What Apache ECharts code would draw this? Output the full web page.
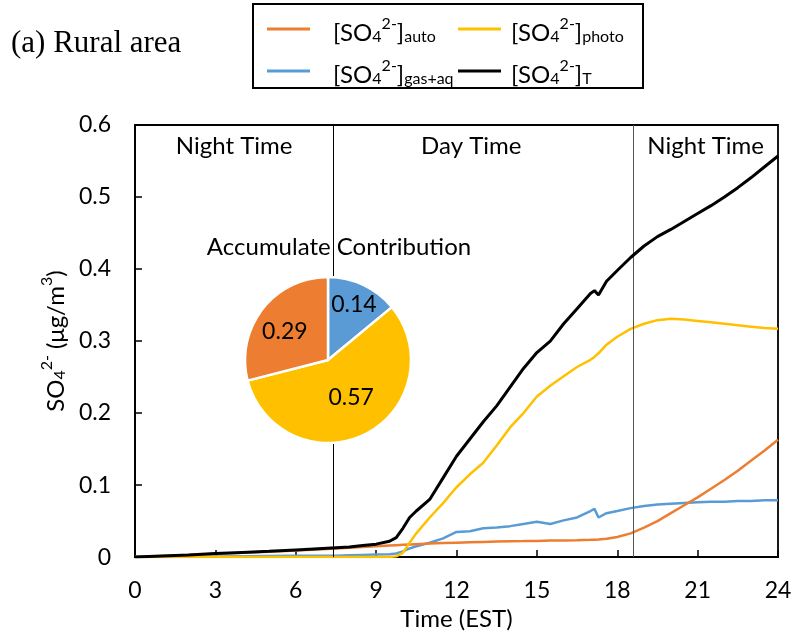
<!DOCTYPE html>
<html>
<head>
<meta charset="utf-8">
<script src="https://cdn.jsdelivr.net/npm/echarts@6/dist/echarts.min.js"></script>
<style>
  html, body { margin: 0; padding: 0; background: #fff; }
  #chart { width: 798px; height: 636px; }
</style>
</head>
<body>
<div id="chart"></div>
<script>
// Hour of day (EST)
const hours = [0,1,2,3,4,5,6,7,7.5,8,8.5,9,9.5,9.75,10,10.25,10.5,11,11.5,12,12.5,13,13.5,14,14.5,15,15.5,16,16.5,17,17.15,17.3,17.6,18,18.5,19,19.5,20,20.5,21,21.5,22,22.5,23,23.5,24];

// Sulfate concentrations (µg/m3)
const soAuto  = [0,0.0015,0.003,0.0045,0.006,0.0075,0.009,0.011,0.012,0.013,0.014,0.015,0.016,0.0165,0.017,0.0175,0.018,0.019,0.0195,0.02,0.0205,0.021,0.0215,0.022,0.0222,0.0225,0.023,0.0232,0.0235,0.024,0.0242,0.0245,0.0255,0.028,0.033,0.041,0.05,0.061,0.072,0.083,0.095,0.107,0.12,0.134,0.148,0.163];
const soPhoto = [0,0,0,0,0,0,0,0,0,0,0,0,0,0.001,0.006,0.02,0.033,0.055,0.075,0.097,0.115,0.131,0.155,0.18,0.2,0.223,0.238,0.251,0.264,0.274,0.278,0.283,0.295,0.306,0.317,0.324,0.329,0.331,0.33,0.328,0.326,0.324,0.322,0.32,0.318,0.317];
const soGasAq = [0,0.0003,0.0006,0.001,0.0012,0.0015,0.0018,0.002,0.002,0.0025,0.003,0.0035,0.004,0.005,0.008,0.012,0.015,0.02,0.026,0.035,0.036,0.04,0.041,0.043,0.046,0.049,0.046,0.051,0.055,0.064,0.067,0.055,0.061,0.064,0.068,0.071,0.073,0.074,0.075,0.076,0.077,0.077,0.078,0.078,0.079,0.079];
const soTotal = [0,0.0015,0.003,0.005,0.0065,0.008,0.01,0.012,0.013,0.014,0.016,0.018,0.022,0.027,0.04,0.055,0.064,0.08,0.11,0.14,0.164,0.188,0.21,0.236,0.262,0.284,0.30,0.324,0.345,0.366,0.37,0.364,0.383,0.398,0.416,0.432,0.445,0.455,0.466,0.477,0.488,0.5,0.513,0.527,0.542,0.557];

// Accumulated contribution shares
const pieNames  = ['gas+aq', 'photo', 'auto'];
const pieValues = [0.14, 0.57, 0.29];

// Day / night boundaries (hours)
const sunrise = 7.4;
const sunset  = 18.6;

const C_AUTO = '#ED7D31', C_PHOTO = '#FFC000', C_GAS = '#5B9BD5', C_T = '#000000';
const FONT = 'Lato';

const pairs = vals => hours.map((h, i) => [h, vals[i]]);

// Rich-text styles for chemical formulas (sub/superscripts)
const LH = 32;
const richStyles = {
  b:   { fontFamily: FONT, fontSize: 24, color: '#000', lineHeight: LH, verticalAlign: 'bottom' },
  p:   { fontFamily: FONT, fontSize: 24, color: '#000', lineHeight: LH, verticalAlign: 'bottom', padding: [0,0,0,18] },
  q:   { fontFamily: FONT, fontSize: 24, color: '#000', lineHeight: LH, verticalAlign: 'bottom', padding: [0,0,0,5] },
  sub: { fontFamily: FONT, fontSize: 16, color: '#000', lineHeight: LH, verticalAlign: 'bottom' },
  sup: { fontFamily: FONT, fontSize: 16, color: '#000', lineHeight: LH, verticalAlign: 'top', padding: [3,0,0,0] }
};
const formula = (lead, tag) => `{${lead}|[SO}{sub|4}{sup|2-}{b|]}{sub|${tag}}`;

const lineSeries = (name, vals, color, width, z) => ({
  name, type: 'line', data: pairs(vals), showSymbol: false, symbol: 'none',
  lineStyle: { color, width }, itemStyle: { color }, z
});

const legendItem = (name, left, top, lead, tag) => ({
  left, top, icon: 'rect', itemWidth: 43, itemHeight: 3, padding: 0,
  data: [name], selectedMode: false,
  formatter: () => formula(lead, tag), textStyle: { rich: richStyles }
});

const chart = echarts.init(document.getElementById('chart'), null, { renderer: 'canvas' });

const seriesT = lineSeries('[SO4]T', soTotal, C_T, 3, 5);
seriesT.markLine = {
  silent: true, symbol: 'none', label: { show: false },
  data: [
    { xAxis: sunrise, lineStyle: { color: '#000', width: 1, type: 'solid' } },
    { xAxis: sunset,  lineStyle: { color: '#555', width: 1, type: 'solid' } }
  ]
};
seriesT.markArea = {
  silent: true,
  itemStyle: { color: 'rgba(0,0,0,0)' },
  label: { show: true, position: 'insideTop', distance: 9, fontFamily: FONT, fontSize: 24, color: '#000' },
  data: [
    [{ name: 'Night Time', xAxis: 0 },       { xAxis: sunrise }],
    [{ name: 'Day Time',   xAxis: sunrise, label: { offset: [-12, 0] } }, { xAxis: sunset }],
    [{ name: 'Night Time', xAxis: sunset },  { xAxis: 24 }]
  ]
};

// small nudges for the pie's inside labels
const pieLabelShift = [[7, -15], [3, -2], [-8, -1]];

chart.setOption({
  animation: false,
  backgroundColor: '#fff',
  textStyle: { fontFamily: FONT },
  grid: { left: 135, right: 20, top: 125, bottom: 73, show: true, borderColor: '#000', borderWidth: 1.8, backgroundColor: 'transparent' },
  legend: [
    legendItem('[SO4]auto',   267, 13, 'p', 'auto'),
    legendItem('[SO4]photo',  458, 13, 'q', 'photo'),
    legendItem('[SO4]gas+aq', 267, 55, 'p', 'gas+aq'),
    legendItem('[SO4]T',      458, 55, 'q', 'T')
  ],
  xAxis: {
    type: 'value', min: 0, max: 24, interval: 3,
    name: 'Time (EST)', nameLocation: 'middle', nameGap: 45,
    nameTextStyle: { fontFamily: FONT, fontSize: 24, color: '#000' },
    axisLine: { lineStyle: { color: '#000', width: 1.8 } },
    axisTick: { inside: true, length: 7, lineStyle: { color: '#000', width: 1.5 } },
    axisLabel: { fontFamily: FONT, fontSize: 23, color: '#000', margin: 22 },
    splitLine: { show: false }
  },
  yAxis: {
    type: 'value', min: 0, max: 0.6, interval: 0.1,
    name: '{b|SO}{sub|4}{sup|2-}{b| (μg/m}{sup|3}{b|)}', nameLocation: 'middle', nameGap: 66, nameRotate: 90,
    nameTextStyle: { rich: richStyles },
    axisLine: { lineStyle: { color: '#000', width: 1.8 } },
    axisTick: { inside: true, length: 7, lineStyle: { color: '#000', width: 1.5 } },
    axisLabel: { fontFamily: FONT, fontSize: 23, color: '#000', margin: 24 },
    splitLine: { show: false }
  },
  graphic: [
    { type: 'rect', shape: { x: 253, y: 4, width: 390, height: 84 }, style: { fill: 'none', stroke: '#000', lineWidth: 2 }, z: 10 },
    { type: 'text', x: 11, y: 44, style: { text: '(a) Rural area', font: '31px "Liberation Serif"', fill: '#000', verticalAlign: 'middle' } },
    { type: 'text', x: 339, y: 247, style: { text: 'Accumulate Contribution', font: '24px Lato', fill: '#000', align: 'center', verticalAlign: 'middle' }, z: 20 }
  ],
  series: [
    lineSeries('[SO4]gas+aq', soGasAq, C_GAS, 2.5, 2),
    lineSeries('[SO4]auto', soAuto, C_AUTO, 2.5, 3),
    lineSeries('[SO4]photo', soPhoto, C_PHOTO, 2.5, 4),
    seriesT,
    {
      type: 'pie', center: [328, 360], radius: 83, startAngle: 90, clockwise: true,
      silent: true, z: 10,
      itemStyle: { borderColor: '#fff', borderWidth: 2.5 },
      label: { show: true, position: 'inside', fontFamily: FONT, fontSize: 23, color: '#000', formatter: p => p.value.toFixed(2) },
      labelLine: { show: false },
      labelLayout: p => ({ dx: pieLabelShift[p.dataIndex][0], dy: pieLabelShift[p.dataIndex][1] }),
      data: pieNames.map((n, i) => ({ name: n, value: pieValues[i], itemStyle: { color: [C_GAS, C_PHOTO, C_AUTO][i] } }))
    }
  ]
});
</script>
</body>
</html>
